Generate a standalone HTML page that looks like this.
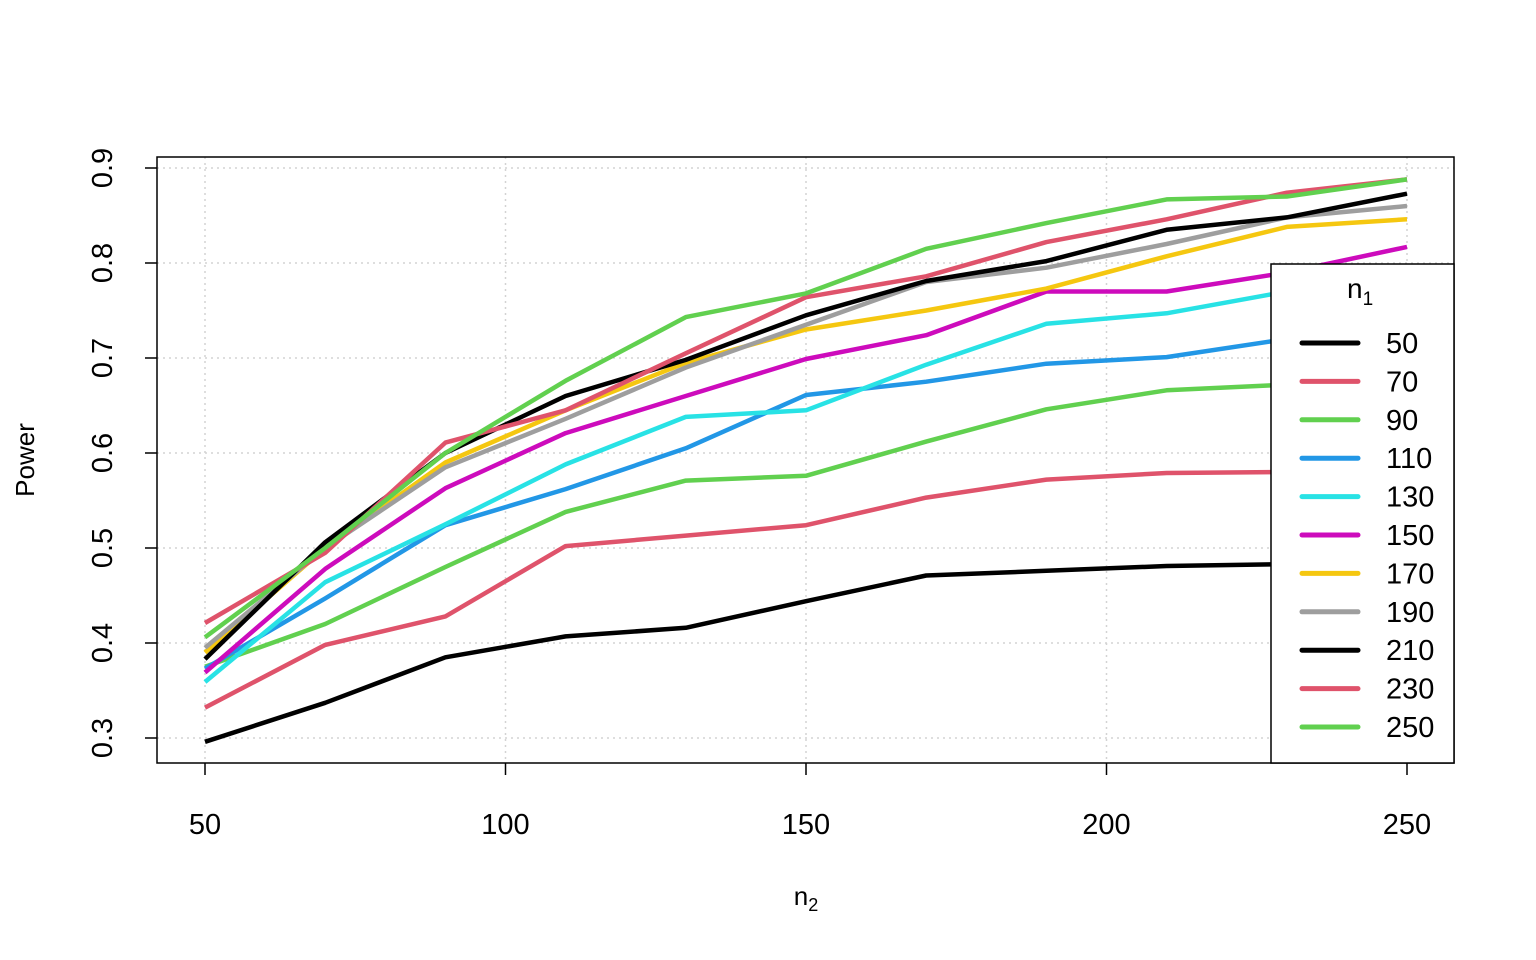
<!DOCTYPE html>
<html><head><meta charset="utf-8"><style>
html,body{margin:0;padding:0;background:#fff;}
svg{display:block;font-family:"Liberation Sans",Arial,sans-serif;}
</style></head><body>
<svg id="s" width="1536" height="960" viewBox="0 0 1536 960" xmlns="http://www.w3.org/2000/svg">
<g id="grid" stroke="#d3d3d3" stroke-width="1.5" stroke-dasharray="2,4"></g>
<g id="lines" fill="none" stroke-width="4.5" stroke-linejoin="round"></g>
<rect x="157" y="157" width="1297" height="606" fill="none" stroke="#000" stroke-width="1.5"/>
<g id="ticks" stroke="#000" stroke-width="1.5"></g>
<g id="lab" font-size="29" fill="#000"></g>
<text x="806" y="905" font-size="26" text-anchor="middle">n<tspan font-size="18" dy="6">2</tspan></text>
<text transform="translate(34,460) rotate(-90)" font-size="26" text-anchor="middle">Power</text>
<rect x="1271" y="264" width="183" height="499" fill="#fff" stroke="#000" stroke-width="1.5"/>
<text x="1347" y="298" font-size="28">n<tspan font-size="19" dy="7">1</tspan></text>
<g id="leg" font-size="29"></g>
</svg>
<script>
var ns="http://www.w3.org/2000/svg";
function el(p,t,a,txt){var e=document.createElementNS(ns,t);for(var k in a)e.setAttribute(k,a[k]);if(txt!=null)e.textContent=txt;document.getElementById(p).appendChild(e);return e;}
function X(v){return 205+(v-50)*6.01;}
function Y(v){return 738-(v-0.3)*950;}
[50,100,150,200,250].forEach(function(v){
 el("grid","line",{x1:X(v),x2:X(v),y1:157,y2:763});
 el("ticks","line",{x1:X(v),x2:X(v),y1:763,y2:775});
 el("lab","text",{x:X(v),y:834,"text-anchor":"middle"},String(v));
});
[0.3,0.4,0.5,0.6,0.7,0.8,0.9].forEach(function(v){
 el("grid","line",{x1:157,x2:1454,y1:Y(v),y2:Y(v)});
 el("ticks","line",{x1:145,x2:157,y1:Y(v),y2:Y(v)});
 el("lab","text",{transform:"translate(112,"+Y(v)+") rotate(-90)","text-anchor":"middle"},String(v));
});
var cols=["#000","#DF536B","#61D04F","#2297E6","#28E2E5","#CD0BBC","#F5C710","#9E9E9E","#000","#DF536B","#61D04F"];
var data=[
[0.296,0.337,0.385,0.407,0.416,0.444,0.471,0.476,0.481,0.483,0.49],
[0.332,0.398,0.428,0.502,0.513,0.524,0.553,0.572,0.579,0.580,0.59],
[0.375,0.42,0.48,0.538,0.571,0.576,0.612,0.646,0.666,0.672,0.68],
[0.373,0.447,0.524,0.562,0.605,0.661,0.675,0.694,0.701,0.72,0.73],
[0.359,0.464,0.525,0.588,0.638,0.645,0.693,0.736,0.747,0.77,0.78],
[0.369,0.478,0.563,0.621,0.66,0.699,0.724,0.770,0.770,0.79,0.817],
[0.39,0.5,0.59,0.645,0.695,0.73,0.75,0.773,0.807,0.838,0.846],
[0.395,0.5,0.585,0.636,0.69,0.735,0.78,0.795,0.82,0.848,0.86],
[0.383,0.506,0.6,0.66,0.698,0.745,0.781,0.802,0.835,0.848,0.873],
[0.421,0.495,0.611,0.645,0.705,0.764,0.786,0.822,0.846,0.874,0.888],
[0.406,0.5,0.6,0.676,0.743,0.768,0.815,0.842,0.867,0.87,0.888]];
data.forEach(function(d,i){
 var pts=d.map(function(v,j){return X(50+20*j).toFixed(1)+","+Y(v).toFixed(1);}).join(" ");
 el("lines","polyline",{points:pts,stroke:cols[i]});
 var y=343+i*38.4;
 el("leg","line",{x1:1302,x2:1358,y1:y,y2:y,stroke:cols[i],"stroke-width":5,"stroke-linecap":"round"});
 el("leg","text",{x:1386,y:y+10},String(50+20*i));
});
</script>
</body></html>
